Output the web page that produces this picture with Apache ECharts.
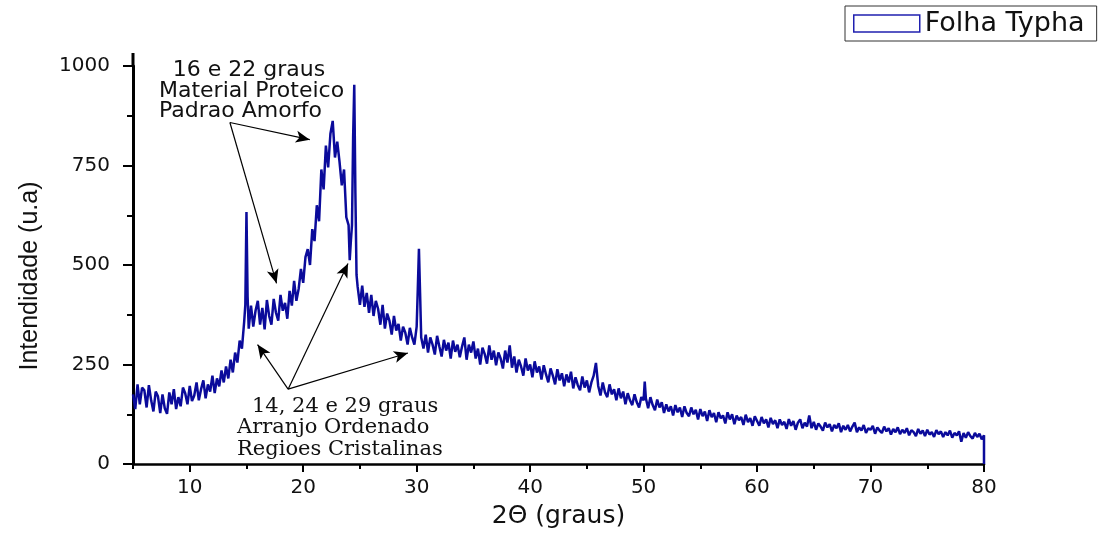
<!DOCTYPE html>
<html>
<head>
<meta charset="utf-8">
<script src="https://cdn.jsdelivr.net/npm/echarts@6/dist/echarts.min.js"></script>
<style>
html,body{margin:0;padding:0;background:#fff;}
#chart{width:1114px;height:534px;}
</style>
</head>
<body>
<div id="chart"></div>
<script>
// ---- data ----
const seriesName = 'Folha Typha';
const xTickValues = [10, 20, 30, 40, 50, 60, 70, 80];
const yTickValues = [0, 250, 500, 750, 1000];
// [2θ (graus), intensidade (u.a)]
const pattern = [
[5.0,175],[5.2,138],[5.4,200],[5.6,150],[5.8,192],
[6.0,185],[6.2,142],[6.4,198],[6.6,160],[6.8,132],
[7.0,182],[7.2,170],[7.4,128],[7.6,175],[7.8,140],
[8.0,126],[8.2,180],[8.4,150],[8.6,188],[8.8,138],
[9.0,168],[9.2,145],[9.4,192],[9.6,178],[9.8,150],
[10.0,196],[10.2,158],[10.4,172],[10.6,205],[10.8,160],
[11.0,188],[11.2,210],[11.4,165],[11.6,200],[11.8,182],
[12.0,222],[12.2,178],[12.4,215],[12.6,195],[12.8,235],
[13.0,205],[13.2,245],[13.4,215],[13.6,262],[13.8,230],
[14.0,280],[14.2,255],[14.4,310],[14.6,290],[14.8,358],
[14.9,400],[15.0,633],[15.1,420],[15.2,340],
[15.4,398],[15.6,345],[15.8,385],
[16.0,410],[16.2,350],[16.4,392],[16.6,338],[16.8,412],
[17.0,372],[17.2,350],[17.4,415],[17.6,380],[17.8,360],
[18.0,425],[18.2,385],[18.4,405],[18.6,365],[18.8,435],
[19.0,398],[19.2,460],[19.4,410],[19.6,440],[19.8,490],
[20.0,455],[20.2,520],[20.4,540],[20.6,500],[20.8,590],
[21.0,560],[21.2,650],[21.4,610],[21.6,740],[21.8,690],
[22.0,800],[22.2,745],[22.4,830],[22.6,862],[22.8,770],
[23.0,810],[23.2,760],[23.4,700],[23.6,740],[23.8,620],
[24.0,600],[24.1,512],[24.2,560],[24.3,600],[24.4,820],[24.5,953],[24.6,680],[24.7,475],[24.8,445],
[25.0,400],[25.2,448],[25.4,395],[25.6,430],[25.8,380],
[26.0,425],[26.2,372],[26.4,410],[26.6,390],[26.8,350],
[27.0,400],[27.2,340],[27.4,378],[27.6,360],[27.8,325],
[28.0,372],[28.2,335],[28.4,352],[28.6,310],[28.8,345],
[29.0,330],[29.2,300],[29.4,342],[29.6,318],[29.8,300],
[30.0,345],[30.1,440],[30.2,541],[30.3,430],[30.4,318],
[30.6,290],[30.8,325],[31.0,280],[31.2,318],[31.4,300],[31.6,275],[31.8,322],
[32.0,295],[32.2,270],[32.4,312],[32.6,285],[32.8,305],
[33.0,265],[33.2,310],[33.4,282],[33.6,300],[33.8,268],
[34.0,295],[34.2,318],[34.4,262],[34.6,300],[34.8,280],
[35.0,308],[35.2,265],[35.4,290],[35.6,250],[35.8,292],
[36.0,276],[36.2,252],[36.4,298],[36.6,262],[36.8,285],
[37.0,248],[37.2,280],[37.4,265],[37.6,240],[37.8,285],
[38.0,255],[38.2,298],[38.4,242],[38.6,270],[38.8,230],
[39.0,262],[39.2,245],[39.4,222],[39.6,265],[39.8,235],
[40.0,250],[40.2,218],[40.4,258],[40.6,230],[40.8,245],
[41.0,212],[41.2,248],[41.4,225],[41.6,205],[41.8,240],
[42.0,222],[42.2,200],[42.4,238],[42.6,210],[42.8,228],
[43.0,195],[43.2,225],[43.4,205],[43.6,232],[43.8,190],
[44.0,218],[44.2,198],[44.4,185],[44.6,220],[44.8,192],
[45.0,210],[45.2,180],[45.4,205],[45.6,222],[45.8,254],
[46.0,196],[46.2,172],[46.4,205],[46.6,180],[46.8,168],
[47.0,200],[47.2,175],[47.4,188],[47.6,160],[47.8,190],
[48.0,165],[48.2,182],[48.4,150],[48.6,178],[48.8,160],
[49.0,148],[49.2,175],[49.4,155],[49.6,142],[49.8,168],
[50.0,160],[50.1,207],[50.2,165],[50.4,140],[50.6,168],[50.8,148],
[51.0,135],[51.2,162],[51.4,142],[51.6,155],[51.8,128],
[52.0,150],[52.2,132],[52.4,145],[52.6,122],[52.8,148],
[53.0,130],[53.2,142],[53.4,118],[53.6,145],[53.8,128],
[54.0,120],[54.2,142],[54.4,125],[54.6,136],[54.8,112],
[55.0,138],[55.2,120],[55.4,132],[55.6,108],[55.8,135],
[56.0,118],[56.2,128],[56.4,105],[56.6,130],[56.8,115],
[57.0,122],[57.2,102],[57.4,130],[57.6,112],[57.8,125],
[58.0,100],[58.2,122],[58.4,110],[58.6,118],[58.8,98],
[59.0,124],[59.2,105],[59.4,115],[59.6,96],[59.8,120],
[60.0,108],[60.2,96],[60.4,118],[60.6,102],[60.8,112],
[61.0,92],[61.2,116],[61.4,100],[61.6,110],[61.8,90],
[62.0,112],[62.2,98],[62.4,106],[62.6,88],[62.8,113],
[63.0,96],[63.2,108],[63.4,86],[63.6,104],[63.8,112],
[64.0,90],[64.2,104],[64.4,94],[64.6,122],[64.8,90],
[65.0,106],[65.2,86],[65.4,102],[65.6,94],[65.8,84],
[66.0,104],[66.2,92],[66.4,100],[66.6,82],[66.8,98],
[67.0,90],[67.2,102],[67.4,80],[67.6,96],[67.8,86],
[68.0,98],[68.2,82],[68.4,94],[68.6,104],[68.8,80],
[69.0,92],[69.2,84],[69.4,98],[69.6,78],[69.8,90],
[70.0,86],[70.2,96],[70.4,76],[70.6,92],[70.8,84],
[71.0,78],[71.2,94],[71.4,82],[71.6,90],[71.8,74],
[72.0,88],[72.2,80],[72.4,92],[72.6,75],[72.8,86],
[73.0,78],[73.2,90],[73.4,72],[73.6,85],[73.8,80],
[74.0,70],[74.2,88],[74.4,76],[74.6,84],[74.8,70],
[75.0,86],[75.2,74],[75.4,80],[75.6,68],[75.8,85],
[76.0,75],[76.2,82],[76.4,68],[76.6,80],[76.8,72],
[77.0,84],[77.2,66],[77.4,78],[77.6,72],[77.8,82],
[78.0,56],[78.2,78],[78.4,66],[78.6,80],[78.8,70],
[79.0,64],[79.2,78],[79.4,68],[79.6,76],[79.8,62],
[80.0,72],[80.0,0]
];
// annotation arrows: [from, to] in data coordinates
const arrows = [
  [[13.54, 858], [17.65, 454]],
  [[13.54, 858], [20.58, 815]],
  [[18.67, 188], [15.98, 300]],
  [[18.67, 188], [23.95, 504]],
  [[18.67, 188], [29.23, 279]]
];
const topNote = ['16 e 22 graus', 'Material Proteico', 'Padrao Amorfo'];
const bottomNote = ['14, 24 e 29 graus', 'Arranjo Ordenado', 'Regioes Cristalinas'];

// ---- chart ----
const chart = echarts.init(document.getElementById('chart'), null, {renderer: 'canvas'});
const lineColor = '#0b0b9b';
const sans = '"DejaVu Sans", Arial, sans-serif';
const serif = '"DejaVu Serif", "Liberation Serif", serif';

const option = {
  animation: false,
  backgroundColor: '#fff',
  grid: {left: 133, right: 130, top: 66, bottom: 67, containLabel: false},
  legend: {
    left: 845, top: 6,
    padding: [4, 12, 4, 8],
    borderColor: '#333', borderWidth: 1,
    backgroundColor: '#fff',
    itemWidth: 66, itemHeight: 17,
    textStyle: {fontFamily: sans, fontSize: 27, color: '#111'},
    data: [{name: seriesName, icon: 'rect',
      itemStyle: {color: '#fff', borderColor: '#2020b0', borderWidth: 1.5}}]
  },
  xAxis: [{
    type: 'value', min: 5, max: 80, interval: 5,
    name: '2\u0398 (graus)', nameLocation: 'middle', nameGap: 40,
    nameTextStyle: {fontFamily: sans, fontSize: 25, color: '#111'},
    axisLine: {show: true, onZero: false, lineStyle: {color: '#000', width: 2.5}},
    axisTick: {show: true, length: 5, lineStyle: {color: '#000', width: 2}},
    axisLabel: {
      margin: 14, fontFamily: sans, fontSize: 20, color: '#111',
      formatter: v => (xTickValues.indexOf(v) >= 0 ? String(v) : '')
    },
    splitLine: {show: false}
  }, {
    type: 'value', min: 5, max: 80, position: 'bottom',
    axisLine: {show: false},
    axisTick: {show: true, length: 8, customValues: xTickValues, lineStyle: {color: '#000', width: 2}},
    axisLabel: {show: false},
    splitLine: {show: false}
  }],
  yAxis: {
    type: 'value', min: 0, max: 1000, interval: 250,
    name: 'Intendidade (u.a)', nameLocation: 'middle', nameGap: 90,
    nameTextStyle: {fontFamily: '"Liberation Sans Narrow", "Arial Narrow", Arial, sans-serif', fontSize: 25, color: '#111', padding: [0, 22, 0, 0]},
    axisLine: {show: true, lineStyle: {color: '#000', width: 3}},
    axisTick: {show: true, length: 10, lineStyle: {color: '#000', width: 2}},
    minorTick: {show: true, splitNumber: 2, length: 6, lineStyle: {color: '#000', width: 2}},
    axisLabel: {
      margin: 23, fontFamily: sans, fontSize: 20, color: '#111',
      formatter: v => (yTickValues.indexOf(v) >= 0 ? String(v) : '')
    },
    splitLine: {show: false}
  },
  series: [{
    name: seriesName,
    type: 'line',
    xAxisIndex: 0,
    data: pattern,
    showSymbol: false,
    symbol: 'none',
    lineStyle: {color: lineColor, width: 2.5},
    itemStyle: {color: lineColor},
    markLine: {
      silent: true,
      symbol: ['none', 'arrow'],
      symbolSize: [9, 14],
      lineStyle: {color: '#000', width: 1.2, type: 'solid'},
      label: {show: false},
      emphasis: {disabled: true},
      data: arrows.map(a => [{coord: a[0]}, {coord: a[1]}])
    }
  }],
  graphic: [
    {type: 'line', shape: {x1: 133, y1: 53, x2: 133, y2: 66}, style: {stroke: '#000', lineWidth: 3}, silent: true},
    {type: 'text', x: 249, y: 70, style: {text: topNote[0], font: '22px ' + sans, fill: '#111', textAlign: 'center', textVerticalAlign: 'middle'}},
    {type: 'text', x: 159, y: 91, style: {text: topNote[1], font: '22px ' + sans, fill: '#111', textAlign: 'left', textVerticalAlign: 'middle'}},
    {type: 'text', x: 159, y: 111, style: {text: topNote[2], font: '22px ' + sans, fill: '#111', textAlign: 'left', textVerticalAlign: 'middle'}},
    {type: 'text', x: 252, y: 407, style: {text: bottomNote[0], font: '21px ' + serif, fill: '#111', textAlign: 'left', textVerticalAlign: 'middle'}},
    {type: 'text', x: 237, y: 428, style: {text: bottomNote[1], font: '21px ' + serif, fill: '#111', textAlign: 'left', textVerticalAlign: 'middle'}},
    {type: 'text', x: 237, y: 450, style: {text: bottomNote[2], font: '21px ' + serif, fill: '#111', textAlign: 'left', textVerticalAlign: 'middle'}}
  ]
};
chart.setOption(option);
</script>
</body>
</html>
